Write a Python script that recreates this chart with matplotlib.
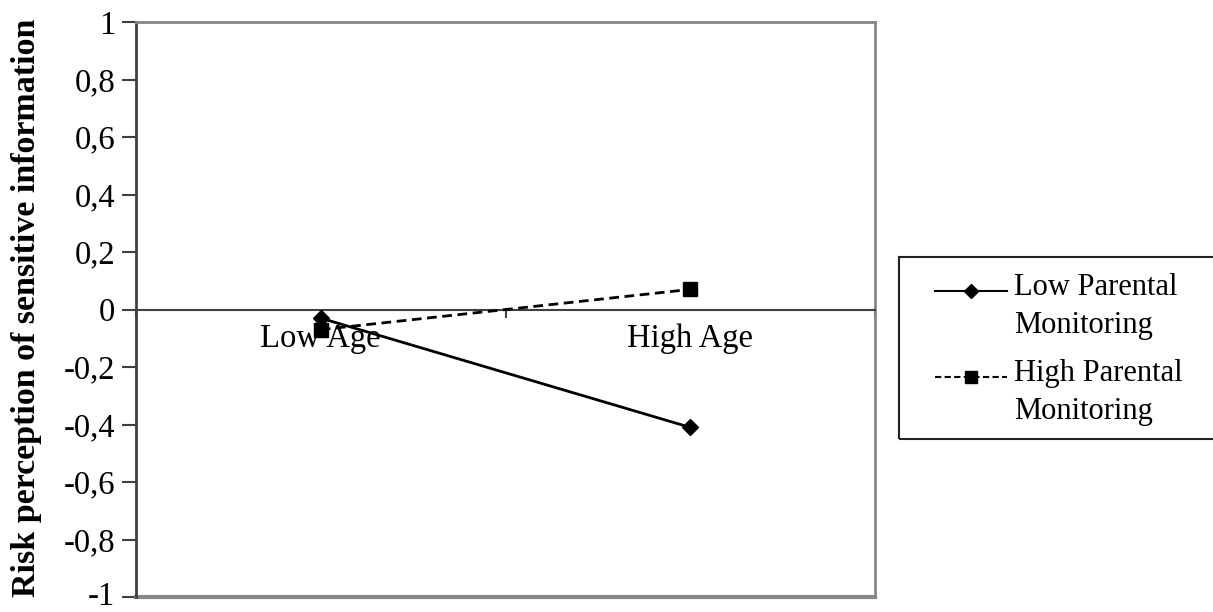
import numpy as np
import matplotlib
matplotlib.use("Agg")
import matplotlib.pyplot as plt
import matplotlib.transforms as mtransforms
from matplotlib.patches import Rectangle

plt.rcParams['font.family'] = ['Liberation Serif', 'DejaVu Serif']

# data
categories = ["Low Age", "High Age"]
low_monitoring = [-0.03, -0.41]
high_monitoring = [-0.07, 0.07]
series_names = ["Low Parental\nMonitoring", "High Parental\nMonitoring"]
y_ticks = [-1, -0.8, -0.6, -0.4, -0.2, 0, 0.2, 0.4, 0.6, 0.8, 1]
y_tick_labels = ["-1", "-0,8", "-0,6", "-0,4", "-0,2", "0", "0,2", "0,4", "0,6", "0,8", "1"]

fig = plt.figure(figsize=(12.13, 6.12), dpi=100)
ax = fig.add_axes([0.1121, 0.0245, 0.7214 - 0.1121, 0.964 - 0.0245])

x = np.arange(len(categories)) + 0.5
ax.plot(x, low_monitoring, color='black', lw=2, marker='D', ms=8, zorder=3)
ax.plot(x, high_monitoring, color='black', lw=2, ls=(0, (3.5, 2)), marker='s', ms=10, zorder=3)

ax.set_xlim(0, len(categories))
ax.set_ylim(-1, 1)

# plot area border in grey, vertical axis dark
for side in ['top', 'right']:
    ax.spines[side].set_color('#868686')
    ax.spines[side].set_linewidth(2)
ax.spines['left'].set_color('#404040')
ax.spines['left'].set_linewidth(2)
# category axis crosses at zero
ax.spines['bottom'].set_position(('data', 0))
ax.spines['bottom'].set_color('#404040')
ax.spines['bottom'].set_linewidth(1.5)
ax.axhline(-1, color='#868686', lw=3, clip_on=False)

ax.set_yticks(y_ticks)
ax.set_yticklabels(y_tick_labels, fontsize=23.5)
ax.tick_params(axis='y', direction='out', length=10, width=1.5, color='#404040', pad=5)
# keep the bottom label inside the picture
bottom_lbl = ax.get_yticklabels()[0]
bottom_lbl.set_transform(bottom_lbl.get_transform() +
                         mtransforms.ScaledTranslation(0, 4 / 100, fig.dpi_scale_trans))

ax.set_xticks(np.arange(len(categories) + 1))
ax.set_xticklabels([])
ax.set_xticks(x, minor=True)
ax.set_xticklabels(categories, minor=True, fontsize=23.5)
ax.tick_params(axis='x', which='major', direction='out', length=6, width=1.5, color='#404040')
ax.tick_params(axis='x', which='minor', length=0, pad=10)

fig.text(0.022, 0.497, "Risk perception of sensitive information", rotation=90,
         ha='center', va='center', fontsize=24.5, fontweight='bold')

# legend box
lax = fig.add_axes([899 / 1213, 1 - 439 / 612, 1.0 - 899 / 1213 + 0.01, (439 - 257) / 612])
lax.set_xlim(0, 1)
lax.set_ylim(0, 1)
lax.axis('off')
lax.add_patch(Rectangle((0, 0), 1, 1, transform=lax.transAxes, fill=False,
                        edgecolor='#222222', lw=1.5, clip_on=False))
hx = [(935 - 899) / 323, (1006 - 899) / 323]
hm = (970 - 899) / 323
tx = (1013 - 899) / 323
rows = [(291, '-', 'D', 7), (377, (0, (3, 1.6)), 's', 9)]
for (py, ls, mk, ms), name in zip(rows, series_names):
    yy = (439 - py) / 182
    lax.plot(hx, [yy, yy], color='black', lw=1.5, ls=ls)
    lax.plot([hm], [yy], color='black', marker=mk, ms=ms, ls='none')
    lax.text(tx, yy + 0.1, name, ha='left', va='top', fontsize=22, linespacing=1.4)

fig.savefig("out.png", dpi=100)
